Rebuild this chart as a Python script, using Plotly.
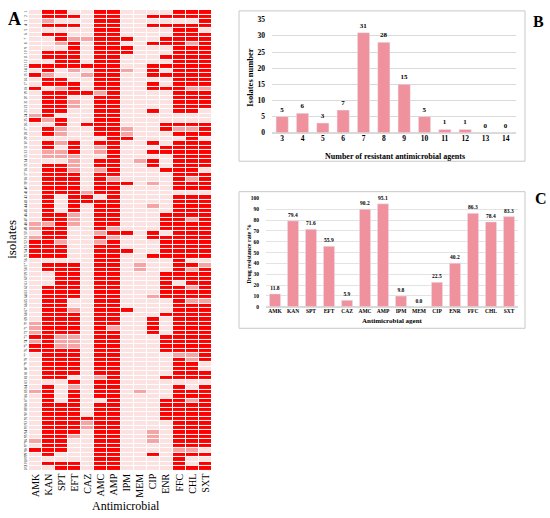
import plotly.graph_objects as go

# --- panel A: resistance profile per isolate (R = resistant, I = intermediate, S = susceptible)
drugs = ["AMK", "KAN", "SPT", "EFT", "CAZ", "AMC", "AMP", "IPM", "MEM", "CIP", "ENR", "FFC", "CHL", "SXT"]
profiles = [
    "SRRSSRRSSSSRRR", "SRRRSRRSSRRRRR", "SISSSRRSSSSSSR", "SRRRSRRSSRRRRR", "SSSSSRRSSSSRRS",
    "SRRSSRRSSSSRRR", "SSRIIRRRSSRRRR", "SSIRSRRSSRRRIR", "SSSRSRRRSSSRRR", "SRRRSRRRSSSRRR",
    "SRRRSRRSSSRRRR", "SSRRSRRSSSSRRR", "RRRRRRRSSRRRRR", "SRSISRRISRSRRR", "RISSIRRSSRRRRR",
    "SRRSSRRSSSSRRR", "SRRRSRRSSRSRRR", "RSIRSRRSSRRRII", "SRRRRIRSSSSRRR", "SRRSSRRSSSSRRR",
    "SRRISRRSSSSRRR", "SRRISRRSSSSRRR", "SRRSSRRSSRSRRS", "IRSSSRRSSSSSSS", "RIRSSRRSSSSSSS",
    "SSRSRRRSSSRRRR", "SRISSRRISSRIIR", "SRISSRRISSSRRR", "SSSSSSRRSSSSRS", "SRIRSRRSSRSRRR",
    "SRSRSIRSSSRRRR", "SIIRSIRSSRRRRR", "SIIISSRSSSSRRR", "SSSISRRSIRSRRR", "SRRISRRSSRSRRR",
    "SRRISIRSSSRRRS", "SRRRSRRSSSSRRR", "SRRRSRISSSSRIR", "SRRRSRRRSISRRR", "SRRRSRRSSSSRRR",
    "SRRRIRRSSSSSSS", "SRSRRSRSSSSRRR", "SRSRRRRSSSSRRR", "SRSRSRRSSISRRR", "SRSRSRRSSSSRRR",
    "SRRISRRSSSRRRR", "SRRISRRSSSRRIR", "IIRISRRSSSRRRR", "IRRSSRISSSRRRR", "SRRSSIRRSRSRRR",
    "IRRSSRISSRRRRR", "RRISSIRSSSRRRR", "RRRSSRRSSSRRRR", "RRRSSRRRSSRRRR", "RRRSSRRSSRRRRR",
    "SSSSSRRSSSSRSS", "SRRRSRRSISSRRI", "SRRRSRRSISSRIR", "SSRRSRRSSSRRRR", "SSRRSRRSSSRRRR",
    "SSRRSRRSSSRSRR", "SRRRSRRSSSRRIR", "SRRRSRRSSSRRRR", "SRRRSRRSSIRRRR", "SRRSSRRSSSSRII",
    "SRRSSRRSSSSRRR", "SRRISRRRSSSRRR", "SRRRSRRSSSRRRR", "SRRRSRRSSRSRRR", "IRRRSRRSSRSRRR",
    "IRRRSRISSRSRRR", "IRRRSRRSSRSRRR", "RRIISRRSSSRRRR", "IRIISRRSSSRRRR", "RRIISRRSSSRRRR",
    "RRRRSRRSSSRRRR", "SRRRSRRSSSSIIR", "SRRRSRRSSSSRIR", "SRRRSRRSSSSRRS", "SRRRSRRSSSSRRS",
    "SRRRSRRSSSSRRR", "SRRSSIRSSSRRRR", "SSSRSRRSSSSSSS", "SRSISRRSSSSRSR", "IRSRSRRSISSRRR",
    "SRSRSRRSSSSRRR", "SRSRSSRSSSRRIR", "SRRRSRRSSSRRRR", "SRRRSRRSSSRRRR", "SRRRSRRSSSRRRR",
    "SRRRRRRSSSRRRR", "SRRRIRRSSSSRRR", "SRRRIRRSSSSRRR", "SRRRSRRSSISRRR", "SRRISRRSSISRRR",
    "IRRSSRRSSISRRR", "SRRSSRRSSSSRRR", "RRRSSRRSSSSIIS", "SRSSSRRSSRSRRR", "SSSSSRRSSSSRSS",
    "SRRRSRRSSSSRSR", "SSRRSRRSSSSRRR",
]
isolates = list(range(1, len(profiles) + 1))

# --- panel B: number of resistant agents per isolate
n_agents = ["3", "4", "5", "6", "7", "8", "9", "10", "11", "12", "13", "14"]
n_isolates = [5, 6, 3, 7, 31, 28, 15, 5, 1, 1, 0, 0]

# --- panel C: resistance rate per drug
rate_pct = [11.8, 79.4, 71.6, 55.9, 5.9, 90.2, 95.1, 9.8, 0.0, 22.5, 40.2, 86.3, 78.4, 83.3]

W, H = 550, 518
SERIF = "Liberation Serif"
BAR = "#F0919E"
code = {"S": 0, "I": 1, "R": 2}
z = [[code[c] for c in row] for row in profiles]


def px(x):
    return x / W


def py(y):
    return 1 - y / H


fig = go.Figure()

fig.add_trace(go.Heatmap(
    z=z, x=drugs, y=isolates,
    colorscale=[[0, "#FCE1E1"], [0.33, "#FCE1E1"], [0.33, "#F6A3A3"],
                [0.67, "#F6A3A3"], [0.67, "#FE0000"], [1, "#FE0000"]],
    zmin=0, zmax=2, showscale=False, xgap=1, ygap=1,
    xaxis="x", yaxis="y", hoverinfo="skip",
))

fig.add_trace(go.Bar(
    x=n_agents, y=n_isolates, marker_color=BAR, width=0.6,
    texttemplate="%{y}", textposition="outside", cliponaxis=False,
    textfont=dict(family=SERIF, size=7, color="black", weight="bold"),
    xaxis="x2", yaxis="y2",
))

fig.add_trace(go.Bar(
    x=drugs, y=rate_pct, marker_color=BAR, width=0.62,
    texttemplate="%{y:.1f}", textposition="outside", cliponaxis=False,
    textfont=dict(family=SERIF, size=5.5, color="black", weight="bold"),
    xaxis="x3", yaxis="y3",
))

tick_b = dict(family=SERIF, size=7.5, color="black", weight="bold")
tick_c = dict(family=SERIF, size=5.5, color="black", weight="bold")

fig.update_layout(
    width=W, height=H, margin=dict(l=0, r=0, t=0, b=0),
    paper_bgcolor="white", plot_bgcolor="white", showlegend=False,
    font=dict(family=SERIF, color="black"),
    xaxis=dict(domain=[px(29), px(212)], anchor="y", tickangle=-90, ticks="",
               tickfont=dict(family=SERIF, size=10, color="black"), showgrid=False),
    yaxis=dict(domain=[py(475), py(6)], anchor="x", range=[102.5, 0.5],
               tickmode="array", tickvals=isolates, ticktext=[str(i) for i in isolates],
               tickangle=-90, tickfont=dict(family=SERIF, size=3.5, color="black"),
               ticks="", showgrid=False),
    xaxis2=dict(domain=[px(272), px(516)], anchor="y2", tickfont=tick_b, showgrid=False,
                showline=False, ticks=""),
    yaxis2=dict(domain=[py(131), py(16)], anchor="x2", range=[0, 35], dtick=5,
                tickfont=tick_b, gridcolor="#d9d9d9", zeroline=True, zerolinecolor="#d9d9d9",
                ticks="", ticklabelstandoff=6),
    xaxis3=dict(domain=[px(266), px(518)], anchor="y3", tickfont=tick_c, showgrid=False,
                ticks=""),
    yaxis3=dict(domain=[py(308), py(198)], anchor="x3", range=[0, 100], dtick=10,
                tickfont=tick_c, gridcolor="#e3e3e3", zeroline=True, zerolinecolor="#d9d9d9",
                ticks="", ticklabelstandoff=6),
    shapes=[
        dict(type="rect", xref="paper", yref="paper", x0=px(239), x1=px(525),
             y0=py(160), y1=py(7), line=dict(color="#c8c8c8", width=1)),
        dict(type="rect", xref="paper", yref="paper", x0=px(239), x1=px(525),
             y0=py(330), y1=py(191), line=dict(color="#c8c8c8", width=1)),
    ],
)


def label(x, y, text, size, bold=False, angle=0):
    fig.add_annotation(
        x=px(x), y=py(y), xref="paper", yref="paper", text=text, showarrow=False,
        textangle=angle, xanchor="center", yanchor="middle",
        font=dict(family=SERIF, size=size, color="black", weight="bold" if bold else "normal"),
    )


label(14, 15, "A", 18, bold=True)
label(538, 18, "B", 16, bold=True)
label(541, 198, "C", 16, bold=True)
label(12, 240, "isolates", 13, angle=-90)
label(126, 511, "Antimicrobial", 12)
label(250, 75, "Isolates number", 8.5, bold=True, angle=-90)
label(395, 155, "Number of resistant antimicrobial agents", 8, bold=True)
label(249, 254, "Drug resistance rate %", 6, bold=True, angle=-90)
label(392, 323, "Antimicrobial agent", 7, bold=True)

# page body margin would shift the figure, drop it
fig.write_html("out.html", config={"displayModeBar": False},
               post_script="document.body.style.margin='0';")
